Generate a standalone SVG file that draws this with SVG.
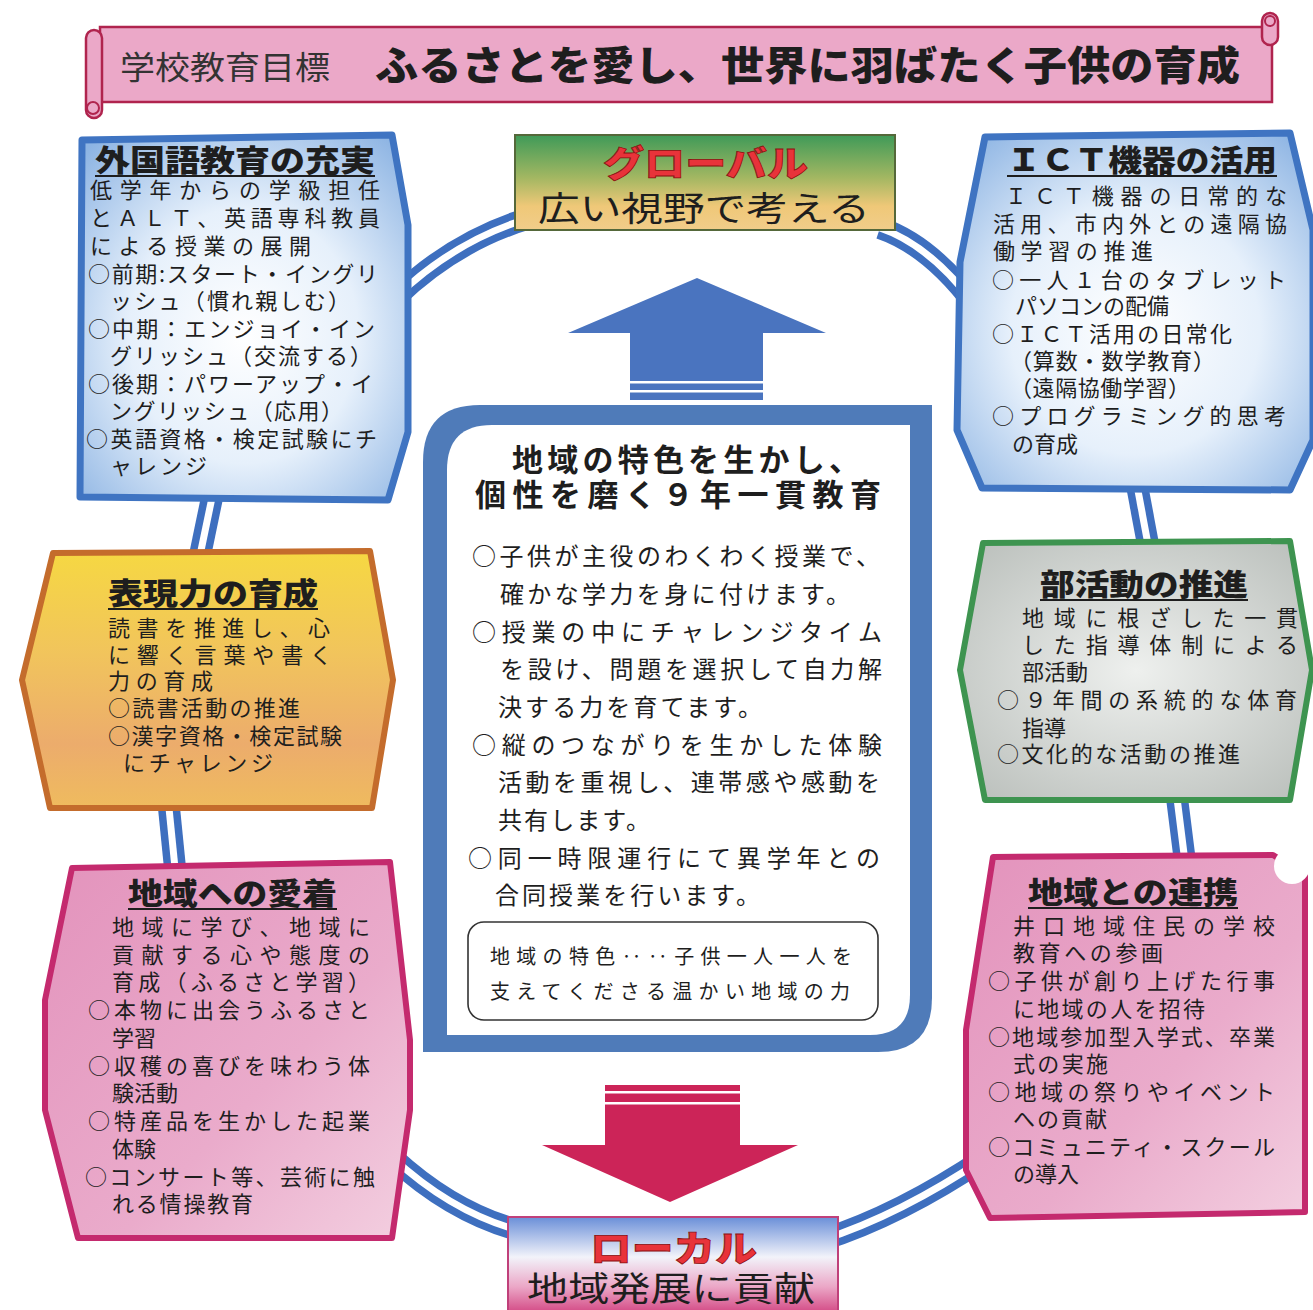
<svg xmlns="http://www.w3.org/2000/svg" width="1313" height="1310" viewBox="0 0 1313 1310">
<style>
.t{font-family:"Noto Sans CJK JP","Noto Sans",sans-serif;fill:#1e1e1e}
.b{font-size:22px}
.c{font-size:24px}
.h{font-size:30px;font-weight:900}
.ul{stroke:#1e1e1e;stroke-width:2}
.ro{fill:none;stroke:#3e6fbf;stroke-width:22}
.ri{fill:none;stroke:#ffffff;stroke-width:7}
.red{fill:#e8333a;stroke:#8a1010;stroke-width:0.8;font-size:36px;font-weight:900}
</style>
<defs>
<radialGradient id="gBlue" cx="50%" cy="55%" r="70%">
<stop offset="0" stop-color="#ffffff"/><stop offset="0.5" stop-color="#e6f0fb"/><stop offset="1" stop-color="#8db4e3"/>
</radialGradient>
<linearGradient id="gYel" x1="0" y1="0" x2="0" y2="1">
<stop offset="0" stop-color="#f6d842"/><stop offset="0.4" stop-color="#f1c45c"/><stop offset="0.75" stop-color="#ecac6c"/><stop offset="1" stop-color="#efbb5e"/>
</linearGradient>
<radialGradient id="gGray" cx="50%" cy="50%" r="70%">
<stop offset="0" stop-color="#eef0ee"/><stop offset="1" stop-color="#b9beba"/>
</radialGradient>
<linearGradient id="gPink" x1="0" y1="0" x2="1" y2="1">
<stop offset="0" stop-color="#e393bc"/><stop offset="0.6" stop-color="#eaabcb"/><stop offset="1" stop-color="#f3cfe0"/>
</linearGradient>
<linearGradient id="gGlob" x1="0" y1="0" x2="0" y2="1">
<stop offset="0" stop-color="#3f9a58"/><stop offset="0.45" stop-color="#a3b762"/><stop offset="0.75" stop-color="#efc878"/><stop offset="1" stop-color="#f1cd8a"/>
</linearGradient>
<linearGradient id="gLoc" x1="0" y1="0" x2="0" y2="1">
<stop offset="0" stop-color="#6a8fd8"/><stop offset="0.4" stop-color="#f2f3fa"/><stop offset="0.7" stop-color="#eba6c6"/><stop offset="1" stop-color="#cf3a7a"/>
</linearGradient>
</defs>

<g id="connectors">
<path class="ro" d="M395,298 Q455,240 530,218"/><path class="ri" d="M395,298 Q455,240 530,218"/>
<path class="ro" d="M880,228 Q930,245 975,305"/><path class="ri" d="M880,228 Q930,245 975,305"/>
<path class="ro" d="M1136,480 L1150,555"/><path class="ri" d="M1136,480 L1150,555"/>
<path class="ro" d="M1176,790 L1186,870"/><path class="ri" d="M1176,790 L1186,870"/>
<path class="ro" d="M985,1158 Q900,1215 822,1240"/><path class="ri" d="M985,1158 Q900,1215 822,1240"/>
<path class="ro" d="M525,1232 Q455,1215 393,1158"/><path class="ri" d="M525,1232 Q455,1215 393,1158"/>
<path class="ro" d="M176,878 L168,798"/><path class="ri" d="M176,878 L168,798"/>
<path class="ro" d="M198,565 L214,488"/><path class="ri" d="M198,565 L214,488"/>
<g id="arrow-up">
<path d="M697,278 L826,333 L763,333 L763,400 L630,400 L630,333 L568,333 Z" fill="#4a74bf"/>
<rect x="630" y="381" width="133" height="2.5" fill="#ffffff"/><rect x="630" y="390" width="133" height="2.5" fill="#ffffff"/>
</g>
<g id="arrow-down">
<path d="M605,1085 L740,1085 L740,1145 L798,1145 L670,1202 L542,1145 L605,1145 Z" fill="#cc2458"/>
<rect x="605" y="1091" width="135" height="2.5" fill="#ffffff"/><rect x="605" y="1102" width="135" height="2.5" fill="#ffffff"/>
</g>
</g>

<g id="banner">
<rect x="100" y="27" width="1172" height="75" fill="#eba8c8" stroke="#b0244e" stroke-width="2.5"/>
<rect x="86" y="30" width="16" height="88" rx="8" fill="#eba8c8" stroke="#b0244e" stroke-width="2.5"/>
<circle cx="93" cy="108" r="6" fill="none" stroke="#b0244e" stroke-width="2"/>
<rect x="1262" y="13" width="16" height="32" rx="8" fill="#eba8c8" stroke="#b0244e" stroke-width="2.5"/>
<circle cx="1270" cy="21" r="5" fill="none" stroke="#b0244e" stroke-width="2"/>
<text class="t" font-size="32" style="fill:#333"><tspan x="120" y="79" textLength="210" lengthAdjust="spacingAndGlyphs">学校教育目標</tspan><tspan x="375" y="80" font-size="40" font-weight="900" style="fill:#1e1e1e" textLength="865" lengthAdjust="spacingAndGlyphs">ふるさとを愛し、世界に羽ばたく子供の育成</tspan></text>
</g>

<g id="global">
<rect x="515" y="135" width="380" height="95" fill="url(#gGlob)" stroke="#55683a" stroke-width="2"/>
<text class="t" font-size="34"><tspan class="red" x="603" y="177" textLength="205" lengthAdjust="spacingAndGlyphs">グローバル</tspan><tspan x="538" y="221" textLength="332" lengthAdjust="spacingAndGlyphs">広い視野で考える</tspan></text>
</g>

<g id="local">
<rect x="508" y="1217" width="330" height="100" fill="url(#gLoc)" stroke="#c0407a" stroke-width="2"/>
<text class="t" font-size="34"><tspan class="red" x="590" y="1262" textLength="167" lengthAdjust="spacingAndGlyphs">ローカル</tspan><tspan x="527" y="1301" textLength="288" lengthAdjust="spacingAndGlyphs">地域発展に貢献</tspan></text>
</g>

<g id="foreign-language">
<polygon points="82,140 392,135 408,225 408,432 388,500 80,497" fill="url(#gBlue)" stroke="#3f74c2" stroke-width="7" stroke-linejoin="round"/>
<line class="ul" x1="95" y1="176" x2="375" y2="176"/>
<text class="t b"><tspan class="h" x="95" y="171" textLength="280" lengthAdjust="spacingAndGlyphs">外国語教育の充実</tspan>
<tspan x="90" y="198" textLength="290">低学年からの学級担任</tspan>
<tspan x="90" y="226" textLength="290">とＡＬＴ、英語専科教員</tspan>
<tspan x="90" y="254" textLength="221">による授業の展開</tspan>
<tspan x="88" y="282" textLength="290">○前期:スタート・イングリ</tspan>
<tspan x="110" y="309" textLength="240">ッシュ（慣れ親しむ）</tspan>
<tspan x="88" y="337" textLength="287">○中期：エンジョイ・イン</tspan>
<tspan x="110" y="364" textLength="262">グリッシュ（交流する）</tspan>
<tspan x="88" y="392" textLength="285">○後期：パワーアップ・イ</tspan>
<tspan x="110" y="419" textLength="233">ングリッシュ（応用）</tspan>
<tspan x="86" y="447" textLength="291">○英語資格・検定試験にチ</tspan>
<tspan x="110" y="474" textLength="97">ャレンジ</tspan></text>
</g>

<g id="ict">
<polygon points="985,137 1290,133 1313,230 1313,440 1290,490 982,488 957,430 960,262" fill="url(#gBlue)" stroke="#3f74c2" stroke-width="7" stroke-linejoin="round"/>
<line class="ul" x1="1007" y1="176" x2="1277" y2="176"/>
<text class="t b"><tspan class="h" x="1007" y="171" textLength="270" lengthAdjust="spacingAndGlyphs">ＩＣＴ機器の活用</tspan>
<tspan x="1005" y="204" textLength="282">ＩＣＴ機器の日常的な</tspan>
<tspan x="993" y="232" textLength="294">活用、市内外との遠隔協</tspan>
<tspan x="993" y="259" textLength="160">働学習の推進</tspan>
<tspan x="992" y="288" textLength="294">○一人１台のタブレット</tspan>
<tspan x="1015" y="314">パソコンの配備</tspan>
<tspan x="992" y="342" textLength="240">○ＩＣＴ活用の日常化</tspan>
<tspan x="1010" y="369" textLength="205">（算数・数学教育）</tspan>
<tspan x="1010" y="396" textLength="180">（遠隔協働学習）</tspan>
<tspan x="992" y="424" textLength="294">○プログラミング的思考</tspan>
<tspan x="1012" y="452">の育成</tspan></text>
</g>

<g id="expression">
<polygon points="53,553 370,551 393,680 372,808 50,808 22,680" fill="url(#gYel)" stroke="#c46c2c" stroke-width="6" stroke-linejoin="round"/>
<line class="ul" x1="108" y1="609" x2="318" y2="609"/>
<text class="t b"><tspan class="h" x="108" y="604" textLength="210" lengthAdjust="spacingAndGlyphs">表現力の育成</tspan>
<tspan x="108" y="636" textLength="222">読書を推進し、心</tspan>
<tspan x="108" y="663" textLength="224">に響く言葉や書く</tspan>
<tspan x="108" y="689" textLength="105">力の育成</tspan>
<tspan x="108" y="716" textLength="192">○読書活動の推進</tspan>
<tspan x="108" y="744" textLength="234">○漢字資格・検定試験</tspan>
<tspan x="123" y="771" textLength="150">にチャレンジ</tspan></text>
</g>

<g id="club">
<polygon points="983,543 1290,541 1312,670 1290,800 985,800 960,670" fill="url(#gGray)" stroke="#3e9450" stroke-width="6" stroke-linejoin="round"/>
<line class="ul" x1="1040" y1="600" x2="1248" y2="600"/>
<text class="t b"><tspan class="h" x="1040" y="595" textLength="208" lengthAdjust="spacingAndGlyphs">部活動の推進</tspan>
<tspan x="1022" y="626" textLength="276">地域に根ざした一貫</tspan>
<tspan x="1022" y="653" textLength="276">した指導体制による</tspan>
<tspan x="1022" y="680">部活動</tspan>
<tspan x="997" y="708" textLength="300">○９年間の系統的な体育</tspan>
<tspan x="1022" y="736">指導</tspan>
<tspan x="997" y="762" textLength="243">○文化的な活動の推進</tspan></text>
</g>

<g id="attachment">
<polygon points="72,868 390,862 410,1040 410,1110 392,1238 78,1238 45,1110 45,1000" fill="url(#gPink)" stroke="#c42a6e" stroke-width="6" stroke-linejoin="round"/>
<line class="ul" x1="128" y1="909" x2="337" y2="909"/>
<text class="t b"><tspan class="h" x="128" y="904" textLength="209" lengthAdjust="spacingAndGlyphs">地域への愛着</tspan>
<tspan x="112" y="935" textLength="258">地域に学び、地域に</tspan>
<tspan x="112" y="963" textLength="258">貢献する心や態度の</tspan>
<tspan x="112" y="990" textLength="258">育成（ふるさと学習）</tspan>
<tspan x="88" y="1018" textLength="282">○本物に出会うふるさと</tspan>
<tspan x="112" y="1046">学習</tspan>
<tspan x="88" y="1074" textLength="282">○収穫の喜びを味わう体</tspan>
<tspan x="112" y="1101">験活動</tspan>
<tspan x="88" y="1129" textLength="282">○特産品を生かした起業</tspan>
<tspan x="112" y="1157">体験</tspan>
<tspan x="85" y="1185" textLength="290">○コンサート等、芸術に触</tspan>
<tspan x="112" y="1212" textLength="141">れる情操教育</tspan></text>
</g>

<g id="cooperation">
<polygon points="993,857 1273,855 1305,875 1305,1212 990,1218 966,1170 966,1030" fill="url(#gPink)" stroke="#c42a6e" stroke-width="6" stroke-linejoin="round"/>
<circle cx="1292" cy="866" r="18" fill="#ffffff"/>
<line class="ul" x1="1028" y1="908" x2="1238" y2="908"/>
<text class="t b"><tspan class="h" x="1028" y="903" textLength="210" lengthAdjust="spacingAndGlyphs">地域との連携</tspan>
<tspan x="1013" y="934" textLength="262">井口地域住民の学校</tspan>
<tspan x="1013" y="961" textLength="150">教育への参画</tspan>
<tspan x="988" y="989" textLength="287">○子供が創り上げた行事</tspan>
<tspan x="1013" y="1017" textLength="192">に地域の人を招待</tspan>
<tspan x="988" y="1045" textLength="287">○地域参加型入学式、卒業</tspan>
<tspan x="1013" y="1072" textLength="95">式の実施</tspan>
<tspan x="988" y="1100" textLength="287">○地域の祭りやイベント</tspan>
<tspan x="1013" y="1127" textLength="94">への貢献</tspan>
<tspan x="988" y="1155" textLength="287">○コミュニティ・スクール</tspan>
<tspan x="1013" y="1182">の導入</tspan></text>
</g>

<g id="center">
<path d="M423,462 Q423,405 480,405 L932,405 L932,998 Q932,1052 878,1052 L423,1052 Z" fill="#4f7bb9"/>
<path d="M447,470 Q447,425 492,425 L910,425 L910,995 Q910,1035 870,1035 L447,1035 Z" fill="#ffffff"/>
<text class="t c"><tspan x="512" y="471" font-size="31" font-weight="700" textLength="348">地域の特色を生かし、</tspan>
<tspan x="475" y="506" font-size="31" font-weight="700" textLength="406">個性を磨く９年一貫教育</tspan>
<tspan x="472" y="565" textLength="408">○子供が主役のわくわく授業で、</tspan>
<tspan x="500" y="603" textLength="350">確かな学力を身に付けます。</tspan>
<tspan x="472" y="641" textLength="410">○授業の中にチャレンジタイム</tspan>
<tspan x="500" y="678" textLength="382">を設け、問題を選択して自力解</tspan>
<tspan x="498" y="716" textLength="264">決する力を育てます。</tspan>
<tspan x="472" y="754" textLength="410">○縦のつながりを生かした体験</tspan>
<tspan x="498" y="791" textLength="382">活動を重視し、連帯感や感動を</tspan>
<tspan x="498" y="829" textLength="152">共有します。</tspan>
<tspan x="468" y="867" textLength="412">○同一時限運行にて異学年との</tspan>
<tspan x="495" y="904" textLength="265">合同授業を行います。</tspan></text>
<rect x="468" y="922" width="410" height="98" rx="16" fill="none" stroke="#333" stroke-width="1.6"/>
<text class="t" font-size="20"><tspan x="490" y="964" textLength="362">地域の特色‥‥子供一人一人を</tspan>
<tspan x="490" y="999" textLength="360">支えてくださる温かい地域の力</tspan></text>
</g>
</svg>
